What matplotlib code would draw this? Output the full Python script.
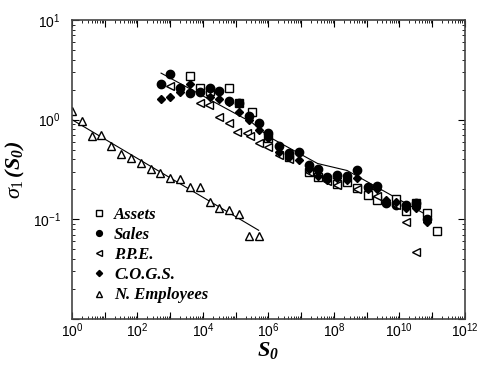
import numpy as np
import matplotlib
matplotlib.use('Agg')
import matplotlib.pyplot as plt
from matplotlib.ticker import FixedLocator, LogLocator, NullFormatter, FuncFormatter

plt.rcParams['font.family'] = ['Liberation Sans', 'DejaVu Sans']
plt.rcParams['mathtext.fontset'] = 'custom'
plt.rcParams['mathtext.rm'] = 'Liberation Serif'
plt.rcParams['mathtext.it'] = 'Liberation Serif:italic'
plt.rcParams['mathtext.bf'] = 'Liberation Serif:bold'
plt.rcParams['mathtext.bfit'] = 'Liberation Serif:bold:italic'

# data, as log10(S0) and sigma_1
assets_logs = [3.6, 3.9, 4.2, 4.8, 5.1, 5.5, 6.0, 6.63, 7.24, 7.5, 8.1, 8.4, 8.7, 9.05, 9.3, 9.9, 10.2, 10.5, 10.85, 11.15]
assets_sig = [2.73, 2.07, 1.95, 2.07, 1.47, 1.19, 0.65, 0.42, 0.30, 0.265, 0.225, 0.235, 0.205, 0.175, 0.155, 0.16, 0.12, 0.145, 0.116, 0.076]

sales_logs = [2.71, 3.0, 3.3, 3.6, 3.9, 4.2, 4.5, 4.8, 5.1, 5.4, 5.7, 6.0, 6.33, 6.63, 6.93, 7.24, 7.5, 7.8, 8.1, 8.4, 8.7, 9.05, 9.3, 9.6, 9.9, 10.2, 10.5, 10.85]
sales_sig = [2.27, 2.87, 2.1, 1.85, 1.9, 2.1, 1.93, 1.53, 1.47, 1.1, 0.92, 0.73, 0.55, 0.46, 0.47, 0.35, 0.32, 0.265, 0.28, 0.275, 0.31, 0.21, 0.215, 0.145, 0.14, 0.14, 0.145, 0.10]

ppe_logs = [3.0, 3.9, 4.17, 4.5, 4.8, 5.04, 5.34, 5.43, 5.7, 6.0, 6.33, 6.63, 7.24, 7.8, 8.1, 8.7, 9.3, 9.9, 10.2, 10.5]
ppe_sig = [2.17, 1.47, 1.41, 1.06, 0.92, 0.75, 0.73, 0.69, 0.59, 0.53, 0.44, 0.40, 0.30, 0.24, 0.22, 0.20, 0.17, 0.14, 0.094, 0.047]

cogs_logs = [2.71, 3.0, 3.3, 3.6, 3.9, 4.2, 4.5, 4.8, 5.1, 5.4, 5.7, 6.0, 6.33, 6.63, 6.93, 7.24, 7.5, 7.8, 8.1, 8.4, 8.7, 9.05, 9.3, 9.6, 9.9, 10.2, 10.5, 10.85]
cogs_sig = [1.6, 1.7, 1.9, 2.3, 1.9, 1.7, 1.6, 1.5, 1.2, 0.99, 0.78, 0.65, 0.47, 0.42, 0.39, 0.32, 0.27, 0.25, 0.26, 0.25, 0.26, 0.20, 0.20, 0.155, 0.15, 0.13, 0.13, 0.093]

emp_logs = [0.0, 0.3, 0.6, 0.9, 1.2, 1.5, 1.8, 2.1, 2.4, 2.7, 3.0, 3.3, 3.6, 3.9, 4.2, 4.5, 4.8, 5.1, 5.4, 5.7]
emp_sig = [1.22, 0.97, 0.68, 0.70, 0.55, 0.45, 0.41, 0.37, 0.32, 0.29, 0.26, 0.255, 0.21, 0.21, 0.15, 0.13, 0.123, 0.112, 0.068, 0.068]

# fitted curves (vertices)
firm_fit_logs = [2.72, 5.5, 6.0, 7.5, 8.4, 10.85]
firm_fit_logsig = [0.467, -0.03, -0.17, -0.44, -0.51, -0.96]
emp_fit_logs = [0.0, 5.7]
emp_fit_logsig = [0.0, -1.11]

fig = plt.figure(figsize=(4.85, 3.66), dpi=100)
ax = fig.add_axes([72 / 485, 1 - 319 / 366, 393 / 485, 299 / 366])

p10 = lambda v: 10 ** np.array(v)

ax.plot(p10(firm_fit_logs), p10(firm_fit_logsig), color='black', lw=0.8)
ax.plot(p10(emp_fit_logs), p10(emp_fit_logsig), color='black', lw=0.8)

ax.plot(p10(assets_logs), assets_sig, 's', ms=5.5, mfc='white', mec='black', mew=1, label='Assets', ls='none')
ax.plot(p10(sales_logs), sales_sig, 'o', ms=6, mfc='black', mec='black', label='Sales', ls='none')
ax.plot(p10(ppe_logs), ppe_sig, '<', ms=6, mfc='white', mec='black', mew=1, label='P.P.E.', ls='none')
ax.plot(p10(cogs_logs), cogs_sig, 'D', ms=4.5, mfc='black', mec='black', label='C.O.G.S.', ls='none')
ax.plot(p10(emp_logs), emp_sig, '^', ms=6, mfc='white', mec='black', mew=1, label='N. Employees', ls='none')

ax.set_xscale('log')
ax.set_yscale('log')
ax.set_xlim(1, 1e12)
ax.set_ylim(1e-2, 1e1)

ax.xaxis.set_major_locator(FixedLocator([10.0 ** k for k in range(13)]))
ax.xaxis.set_major_formatter(FuncFormatter(
    lambda v, pos: r'$\mathregular{10^{%d}}$' % round(np.log10(v)) if round(np.log10(v)) % 2 == 0 else ''))
ax.xaxis.set_minor_locator(LogLocator(base=10, subs=np.arange(2, 10), numticks=100))
ax.xaxis.set_minor_formatter(NullFormatter())
ax.yaxis.set_major_locator(FixedLocator([1e-2, 1e-1, 1, 10]))
ax.yaxis.set_major_formatter(FuncFormatter(
    lambda v, pos: r'$\mathregular{10^{%d}}$' % round(np.log10(v)) if v > 0.011 else ''))
ax.yaxis.set_minor_locator(LogLocator(base=10, subs=np.arange(2, 10), numticks=100))
ax.yaxis.set_minor_formatter(NullFormatter())

ax.tick_params(which='both', direction='in', top=True, right=True, labelsize=10)
ax.tick_params(which='major', length=5, width=0.8)
ax.tick_params(which='minor', length=2.5, width=0.6)
ax.tick_params(axis='x', pad=2)
ax.tick_params(axis='y', pad=8)
for s in ax.spines.values():
    s.set_linewidth(1.2)
    s.set_color('#444444')

ax.set_xlabel(r'$\mathbfit{S_0}$', fontsize=16, labelpad=0)
ax.set_ylabel(r'$\sigma_{\mathit{1}}\,\mathbfit{(S_0)}$', fontsize=16, labelpad=4)

leg = ax.legend(loc='lower left', bbox_to_anchor=(0.035, 0.03), frameon=False,
                numpoints=1, handlelength=0.8, handletextpad=0.5, labelspacing=0.25,
                borderaxespad=0, markerscale=0.7,
                prop={'family': 'Liberation Serif', 'weight': 'bold', 'style': 'italic', 'size': 12})

fig.savefig('out.png', dpi=100)
